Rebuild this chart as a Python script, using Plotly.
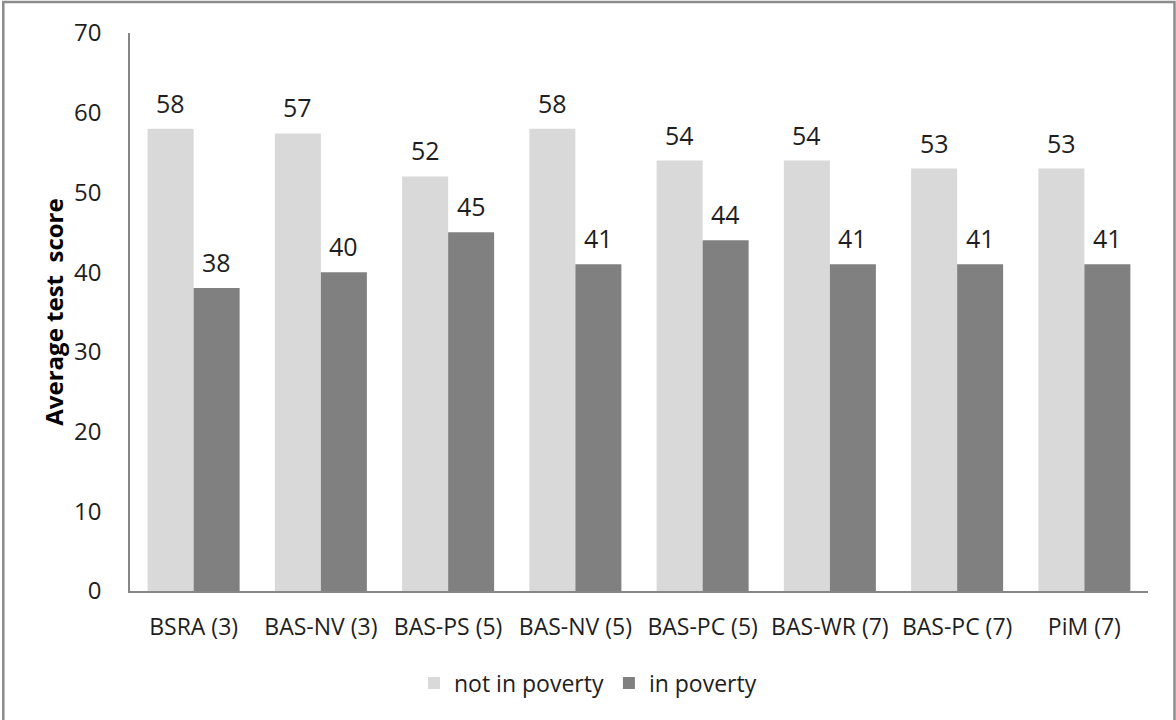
import plotly.graph_objects as go

categories = ["BSRA (3)", "BAS-NV (3)", "BAS-PS (5)", "BAS-NV (5)",
              "BAS-PC (5)", "BAS-WR (7)", "BAS-PC (7)", "PiM (7)"]
not_in_poverty = [58, 57.4, 52, 58, 54, 54, 53, 53]
in_poverty = [38, 40, 45, 41, 44, 41, 41, 41]
series_names = ["not in poverty", "in poverty"]
y_ticks = [0, 10, 20, 30, 40, 50, 60, 70]

FONT = "Open Sans"
TXT = "#1e1e1e"

W, H = 1176, 720
L, R, T, B = 130, 28, 33, 129
pw, ph = W - L - R, H - T - B

fig = go.Figure()
fig.add_trace(go.Bar(name=series_names[0], x=categories, y=not_in_poverty,
                     marker=dict(color="#d9d9d9", line=dict(width=0))))
fig.add_trace(go.Bar(name=series_names[1], x=categories, y=in_poverty,
                     marker=dict(color="#808080", line=dict(width=0))))

# data labels above each bar
cat_w = pw / len(categories)
bar_w = cat_w * (1 - 0.277) / 2
for vals, sign in ((not_in_poverty, -1), (in_poverty, 1)):
    for c, v in zip(categories, vals):
        fig.add_annotation(x=c, y=v, text=f"{v:.0f}", showarrow=False,
                           xref="x", yref="y", xshift=sign * bar_w / 2,
                           yshift=26, yanchor="middle",
                           font=dict(family=FONT, size=25, color=TXT))

# outer chart frame
def px_x(p):
    return (p - L) / pw

def px_y(p):
    return (H - B - p) / ph

fig.add_shape(type="rect", xref="paper", yref="paper",
              x0=px_x(3.3), x1=px_x(1174.5), y0=px_y(730), y1=px_y(2),
              line=dict(color="#8c8c8c", width=2.5), fillcolor="rgba(0,0,0,0)",
              layer="below")

fig.update_layout(
    width=W, height=H,
    margin=dict(l=L, r=R, t=T, b=B, pad=0),
    paper_bgcolor="white", plot_bgcolor="white",
    barmode="group", bargap=0.277, bargroupgap=0,
    font=dict(family=FONT, color=TXT),
    showlegend=True,
    legend=dict(orientation="h", x=px_x(588), xanchor="center",
                y=px_y(683), yanchor="middle",
                font=dict(family=FONT, size=23, color=TXT),
                itemwidth=30, bgcolor="rgba(0,0,0,0)"),
)
fig.update_xaxes(showline=True, linecolor="#868686", linewidth=1.5,
                 showgrid=False, ticks="outside", ticklen=15,
                 tickcolor="rgba(0,0,0,0)",
                 tickfont=dict(family=FONT, size=23, color=TXT))
fig.update_yaxes(range=[0, 70], tickvals=y_ticks, showline=True,
                 linecolor="#868686", linewidth=1.5, showgrid=False,
                 zeroline=False, ticks="outside", ticklen=22,
                 tickcolor="rgba(0,0,0,0)",
                 tickfont=dict(family=FONT, size=24, color=TXT),
                 title=dict(text="<b>Average test\u00a0\u00a0score</b>",
                            font=dict(family=FONT, size=24, color="black"),
                            standoff=4))

fig.write_html("out.html")
